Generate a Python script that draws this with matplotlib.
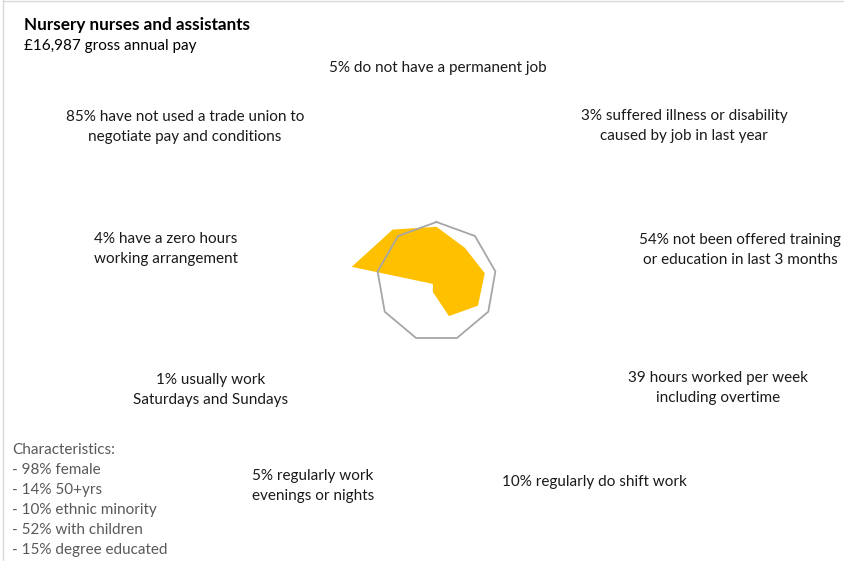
import numpy as np
import matplotlib.pyplot as plt
from matplotlib.lines import Line2D

plt.rcParams['font.family'] = ['Lato', 'DejaVu Sans']

# Occupation profile: ratio of each measure to the all-jobs average (1.0 = average)
labels = [
    "5% do not have a permanent job",
    "3% suffered illness or disability\ncaused by job in last year",
    "54% not been offered training\nor education in last 3 months",
    "39 hours worked per week\nincluding overtime",
    "10% regularly do shift work",
    "5% regularly work\nevenings or nights",
    "1% usually work\nSaturdays and Sundays",
    "4% have a zero hours\nworking arrangement",
    "85% have not used a trade union to\nnegotiate pay and conditions",
]
ratios = [0.92, 0.74, 0.82, 0.80, 0.61, 0.18, 0.07, 1.44, 1.14]
average = [1.0] * 9

title = "Nursery nurses and assistants"
pay = "£16,987 gross annual pay"
characteristics = [
    "Characteristics:",
    "- 98% female",
    "- 14% 50+yrs",
    "- 10% ethnic minority",
    "- 52% with children",
    "- 15% degree educated",
]

# where each spoke label sits (pixel centre of the text block)
label_pos = [(438, 68), (684, 126), (740, 250), (718, 388), (594, 482),
             (313, 486), (211, 390), (166, 249), (185, 127)]

W, H = 845, 561
fig = plt.figure(figsize=(W / 100, H / 100), dpi=100)

cx, cy, rpx = 436.5, 279.2, 59.8
rmax = 1.5
half = rmax * rpx
ax = fig.add_axes([(cx - half) / W, (cy - half) / H, 2 * half / W, 2 * half / H],
                  projection='polar')
ax.set_theta_zero_location('N')
ax.set_theta_direction(-1)
ax.set_ylim(0, rmax)
ax.axis('off')

angles = np.linspace(0, 2 * np.pi, len(ratios), endpoint=False)
ang = np.append(angles, angles[0])
ax.fill(ang, np.append(ratios, ratios[0]), color='#FFC000', lw=0, zorder=1)
ax.plot(ang, np.append(average, average[0]), color='#A6A6A6', lw=1.3, zorder=2)

for text, (x, y) in zip(labels, label_pos):
    fig.text(x / W, 1 - y / H, text, ha='center', va='center', fontsize=11,
             color='#1a1a1a', linespacing=1.55)

fig.text(24 / W, 1 - 25 / H, title, fontsize=12.3, fontweight='bold',
         color='black', va='center')
fig.text(24 / W, 1 - 46 / H, pay, fontsize=11, color='black', va='center')
fig.text(12 / W, 1 - 500 / H, "\n".join(characteristics), fontsize=11,
         color='#595959', va='center', linespacing=1.55)

# thin frame along the top and left edges
fig.add_artist(Line2D([3 / W, 3 / W], [0, 1], color='#D9D9D9', lw=1))
fig.add_artist(Line2D([3 / W, 1], [1 - 0.5 / H, 1 - 0.5 / H], color='#D9D9D9', lw=1))

fig.savefig("out.png", dpi=100)
